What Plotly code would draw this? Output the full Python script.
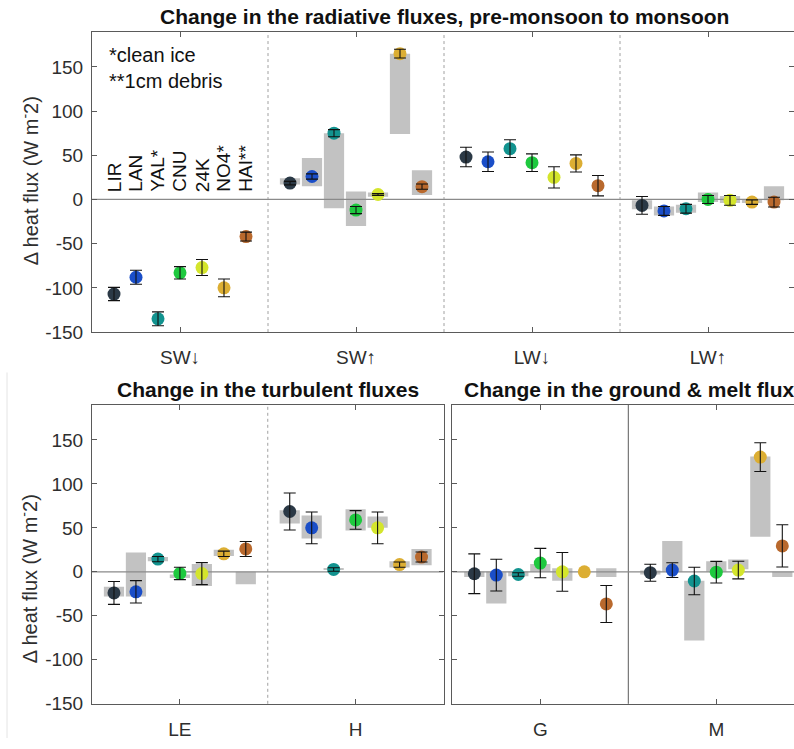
import plotly.graph_objects as go

# ---------------- data ----------------
SITES = ["LIR", "LAN", "YAL*", "CNU", "24K", "NO4*", "HAI**"]
SITE_COLORS = ["#2b3946", "#1a4ec8", "#12938f", "#1ec93e", "#d4e52c", "#dcae33", "#b9692d"]

RAD_GROUPS = ["SW↓", "SW↑", "LW↓", "LW↑"]
SWD_VAL = [-107, -88, -135, -83, -77, -100, -42]
SWD_ERR = [7.5, 8, 7.8, 7, 9, 10, 5]
SWU_VAL = [18.5, 26, 75, -12, 5.6, 165, 14.5]
SWU_ERR = [2, 3, 4, 4, 1, 5, 3]
SWU_LO = [17, 15, -10, -30, 3, 74, 5]
SWU_HI = [24, 47, 75, 9, 8, 165, 33]
LWD_VAL = [48, 42.7, 57.5, 41.6, 25, 40.8, 15.6]
LWD_ERR = [11, 11, 10, 10, 12, 9.7, 11.5]
LWU_VAL = [-6.7, -13, -10.5, 0, -1, -3, -3]
LWU_ERR = [10, 5, 5, 4.5, 5.5, 2.5, 5.5]
LWU_LO = [-11, -18, -15, -3, -4, -4, -1]
LWU_HI = [-1, -8, -6, 8, 4, 0, 15]

TURB_GROUPS = ["LE", "H"]
LE_VAL = [-24, -22.7, 14.5, -1.8, -2, 20.5, 26]
LE_ERR = [13, 12.7, 3, 7, 12.5, 3, 8.5]
LE_LO = [-28, -28, 12, -7, -16, 18, -14]
LE_HI = [-17, 22, 17, -3, 9, 25, 0]
H_VAL = [68.6, 50, 2.7, 59, 50, 8.2, 16.8]
H_ERR = [21, 18, 2, 10.6, 18, 3, 5.7]
H_LO = [55, 38, 2, 47, 50, 5, 7.5]
H_HI = [70, 64, 4.5, 71, 63, 12, 26]

GM_GROUPS = ["G", "M"]
G_VAL = [-2.2, -3.7, -3, 10, 0, 0, -36.5]
G_ERR = [22.6, 18, 2, 16.7, 22, None, 21]
G_LO = [-6, -36, -5, 0, -10, None, -6]
G_HI = [0, 0, 0, 9, 4, None, 4]
M_VAL = [-1, 2, -10.4, -0.4, 2, 130.4, 29.5]
M_ERR = [9.7, 8.4, 15.6, 12.3, 10, 16.4, 24]
M_LO = [-3, 0, -78, 0, 3, 40, -6]
M_HI = [1.5, 35, -10, 12, 14, 131, 0]

Y_TICKS = [-150, -100, -50, 0, 50, 100, 150]
Y_RANGE = [-150, 190]

# ---------------- figure ----------------
W, H = 794, 749
FONT = "Liberation Sans, Arial, Helvetica, sans-serif"
AX = "#5a5a5a"
TXT = "#2e2e2e"
STEP = 0.125
BAR_W = 0.115


def px_x(p):
    return p / W


def px_y(p):
    return 1 - p / H


fig = go.Figure()


def add_panel(xa, ya, groups_vals, groups_errs, groups_lo, groups_hi):
    xs, ys, cols = [], [], []
    bx, bbase, bh = [], [], []
    exs, eys, eerr = [], [], []
    for g, (vals, es) in enumerate(zip(groups_vals, groups_errs)):
        lo = groups_lo[g]
        hi = groups_hi[g]
        for i, v in enumerate(vals):
            x = g + 1 + (i - 3) * STEP
            xs.append(x)
            ys.append(v)
            cols.append(SITE_COLORS[i])
            if lo is not None and lo[i] is not None:
                bx.append(x)
                bbase.append(lo[i])
                bh.append(hi[i] - lo[i])
            if es[i] is not None:
                exs.append(x)
                eys.append(v)
                eerr.append(es[i])
    if bx:
        fig.add_trace(go.Bar(x=bx, y=bh, base=bbase, width=BAR_W,
                             marker=dict(color="#c2c2c2", line=dict(width=0)),
                             xaxis=xa, yaxis=ya, showlegend=False, hoverinfo="skip"))
    ngr = len(groups_vals)
    fig.add_trace(go.Scatter(x=[0.5, ngr + 0.5], y=[0, 0], mode="lines",
                             line=dict(color="#8a8a8a", width=1.2),
                             xaxis=xa, yaxis=ya, showlegend=False, hoverinfo="skip"))
    fig.add_trace(go.Scatter(x=xs, y=ys, mode="markers",
                             marker=dict(size=13, color=cols, line=dict(width=0)),
                             xaxis=xa, yaxis=ya, showlegend=False))
    fig.add_trace(go.Scatter(x=exs, y=eys, mode="markers",
                             marker=dict(size=1, color="rgba(0,0,0,0)"),
                             error_y=dict(type="data", array=eerr, visible=True,
                                          color="#111111", thickness=1.1, width=6),
                             xaxis=xa, yaxis=ya, showlegend=False, hoverinfo="skip"))


add_panel("x", "y", [SWD_VAL, SWU_VAL, LWD_VAL, LWU_VAL],
          [SWD_ERR, SWU_ERR, LWD_ERR, LWU_ERR],
          [None, SWU_LO, None, LWU_LO], [None, SWU_HI, None, LWU_HI])
add_panel("x2", "y2", [LE_VAL, H_VAL], [LE_ERR, H_ERR],
          [LE_LO, H_LO], [LE_HI, H_HI])
add_panel("x3", "y3", [G_VAL, M_VAL], [G_ERR, M_ERR],
          [G_LO, M_LO], [G_HI, M_HI])

tickfont = dict(family=FONT, size=19, color=TXT)


def xaxis(domain, rng, groups, anchor):
    return dict(domain=domain, range=rng, anchor=anchor,
                tickvals=list(range(1, len(groups) + 1)), ticktext=groups,
                ticks="inside", ticklen=5, tickcolor=AX, tickwidth=1,
                showline=True, linecolor=AX, linewidth=1, mirror="ticks",
                showgrid=False, zeroline=False, tickfont=tickfont,
                ticklabelstandoff=8, fixedrange=True)


def yaxis(domain, anchor, labels=True, mirror="ticks"):
    return dict(domain=domain, range=Y_RANGE, anchor=anchor,
                tickvals=Y_TICKS, ticktext=[str(t) for t in Y_TICKS],
                showticklabels=labels,
                ticks="inside", ticklen=5, tickcolor=AX, tickwidth=1,
                showline=True, linecolor=AX, linewidth=1, mirror=mirror,
                showgrid=False, zeroline=False, tickfont=tickfont,
                ticklabelstandoff=4, fixedrange=True)


UNIT = 176.0
top_dom = [px_y(337), px_y(32)]
bot_dom = [px_y(714.3), px_y(410.7)]

fig.update_layout(
    width=W, height=H, autosize=False,
    margin=dict(l=0, r=0, t=0, b=0),
    paper_bgcolor="white", plot_bgcolor="white",
    barmode="overlay",
    font=dict(family=FONT, size=19, color=TXT),
    xaxis=xaxis([px_x(92), 1], [0.5, 0.5 + (W - 92) / UNIT], RAD_GROUPS, "y"),
    yaxis=yaxis(top_dom, "x", mirror=False),
    yaxis4=dict(domain=top_dom, range=Y_RANGE, overlaying="y", side="right",
                anchor="free", position=1.0, tickvals=Y_TICKS,
                showticklabels=False, ticks="inside", ticklen=5, tickcolor=AX,
                showline=False, showgrid=False, zeroline=False, fixedrange=True),
    xaxis2=xaxis([px_x(92), px_x(443.5)], [0.5, 2.5], TURB_GROUPS, "y2"),
    yaxis2=yaxis(bot_dom, "x2"),
    xaxis3=xaxis([px_x(452.3), 1], [0.5, 0.5 + (W - 452.3) / UNIT], GM_GROUPS, "y3"),
    yaxis3=yaxis(bot_dom, "x3", labels=False, mirror=False),
)

# invisible trace so the right-tick overlay axis is drawn
fig.add_trace(go.Scatter(x=[1], y=[0], mode="markers", marker=dict(size=1, color="rgba(0,0,0,0)"),
                         xaxis="x", yaxis="y4", showlegend=False, hoverinfo="skip"))

# group separators
shapes = []
for xv in [1.5, 2.5, 3.5]:
    shapes.append(dict(type="line", xref="x", yref="y domain", x0=xv, x1=xv, y0=0, y1=1,
                       line=dict(color="#a0a0a0", width=1, dash="dot"), layer="below"))
shapes.append(dict(type="line", xref="x2", yref="y2 domain", x0=1.5, x1=1.5, y0=0, y1=1,
                   line=dict(color="#a0a0a0", width=1, dash="dot"), layer="below"))
shapes.append(dict(type="line", xref="x3", yref="y3 domain", x0=1.5, x1=1.5, y0=0, y1=1,
                   line=dict(color=AX, width=1), layer="below"))
# faint image-border line on the left of the lower panels
shapes.append(dict(type="line", xref="paper", yref="paper", x0=px_x(7), x1=px_x(7),
                   y0=0, y1=px_y(378), line=dict(color="#e4e4e4", width=1)))
fig.update_layout(shapes=shapes)

ann = []
titlefont = dict(family=FONT, size=21, color="#111111")
ann.append(dict(text="<b>Change in the radiative fluxes, pre-monsoon to monsoon</b>",
                x=px_x(444), y=px_y(17), xref="paper", yref="paper",
                xanchor="center", yanchor="middle", showarrow=False, font=titlefont))
ann.append(dict(text="<b>Change in the turbulent fluxes</b>",
                x=px_x(267.5), y=px_y(395), xref="paper", yref="paper",
                xanchor="center", yanchor="middle", showarrow=False, font=titlefont))
ann.append(dict(text="<b>Change in the ground & melt flux</b>",
                x=px_x(629), y=px_y(395), xref="paper", yref="paper",
                xanchor="center", yanchor="middle", showarrow=False, font=titlefont))
ytitle = "Δ heat flux (W m<sup>-</sup>2)"
ann.append(dict(text=ytitle, x=px_x(29), y=px_y(184), xref="paper", yref="paper",
                textangle=-90, xanchor="center", yanchor="middle", showarrow=False,
                font=dict(family=FONT, size=20, color=TXT)))
ann.append(dict(text=ytitle, x=px_x(28), y=px_y(588), xref="paper", yref="paper",
                textangle=-90, xanchor="center", yanchor="middle", showarrow=False,
                font=dict(family=FONT, size=20, color=TXT)))
ann.append(dict(text="*clean ice<br>**1cm debris", x=px_x(107), y=px_y(69.5),
                xref="paper", yref="paper", align="left",
                xanchor="left", yanchor="middle", showarrow=False,
                font=dict(family=FONT, size=20, color="#111111")))
for i, s in enumerate(SITES):
    ann.append(dict(text=s, x=1 + (i - 3) * STEP, y=6, xref="x", yref="y",
                    textangle=-90, xanchor="center", yanchor="bottom", showarrow=False,
                    font=dict(family=FONT, size=19, color="#111111")))
fig.update_layout(annotations=ann)

fig.write_html("out.html")
